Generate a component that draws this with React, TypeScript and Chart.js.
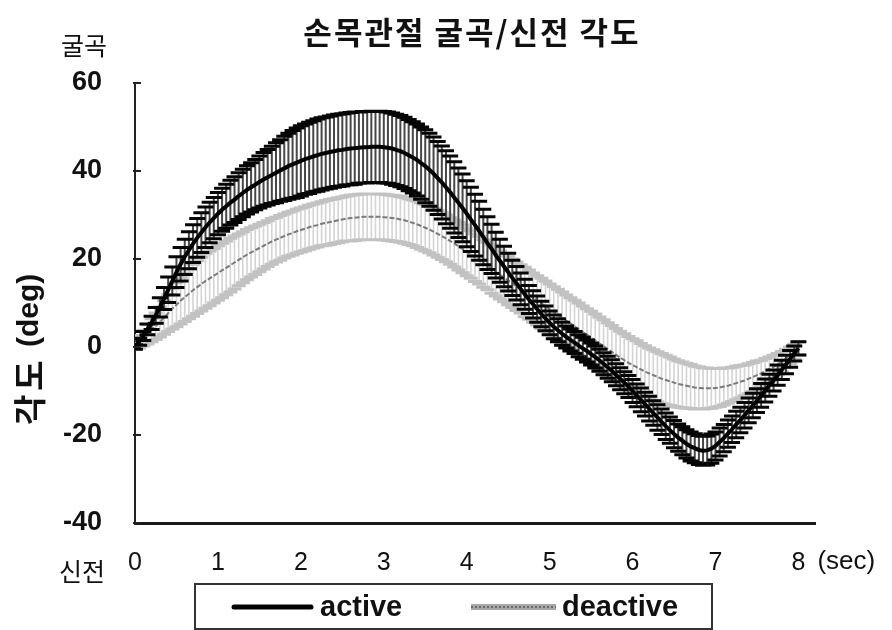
import React, { useEffect, useRef } from 'react';
import { Chart, registerables } from 'chart.js';

Chart.register(...registerables);

// ---- data (sampled every 0.05 s) ----
const TIMES = [
  0, 0.05, 0.1, 0.15, 0.2, 0.25, 0.3, 0.35, 0.4, 0.45, 0.5, 0.55, 0.6, 0.65, 0.7, 0.75, 0.8, 0.85, 0.9, 0.95,
  1, 1.05, 1.1, 1.15, 1.2, 1.25, 1.3, 1.35, 1.4, 1.45, 1.5, 1.55, 1.6, 1.65, 1.7, 1.75, 1.8, 1.85, 1.9, 1.95,
  2, 2.05, 2.1, 2.15, 2.2, 2.25, 2.3, 2.35, 2.4, 2.45, 2.5, 2.55, 2.6, 2.65, 2.7, 2.75, 2.8, 2.85, 2.9, 2.95,
  3, 3.05, 3.1, 3.15, 3.2, 3.25, 3.3, 3.35, 3.4, 3.45, 3.5, 3.55, 3.6, 3.65, 3.7, 3.75, 3.8, 3.85, 3.9, 3.95,
  4, 4.05, 4.1, 4.15, 4.2, 4.25, 4.3, 4.35, 4.4, 4.45, 4.5, 4.55, 4.6, 4.65, 4.7, 4.75, 4.8, 4.85, 4.9, 4.95,
  5, 5.05, 5.1, 5.15, 5.2, 5.25, 5.3, 5.35, 5.4, 5.45, 5.5, 5.55, 5.6, 5.65, 5.7, 5.75, 5.8, 5.85, 5.9, 5.95,
  6, 6.05, 6.1, 6.15, 6.2, 6.25, 6.3, 6.35, 6.4, 6.45, 6.5, 6.55, 6.6, 6.65, 6.7, 6.75, 6.8, 6.85, 6.9, 6.95,
  7, 7.05, 7.1, 7.15, 7.2, 7.25, 7.3, 7.35, 7.4, 7.45, 7.5, 7.55, 7.6, 7.65, 7.7, 7.75, 7.8, 7.85, 7.9, 7.95,
  8,
];

const ACTIVE_MEAN = [
  0, 1.2, 2.5, 4, 5.5, 7.2, 9, 11, 13, 15, 17, 18.8, 20.5, 22, 23.5, 24.8, 26, 27.2, 28.3, 29.3,
  30.3, 31.2, 32, 32.8, 33.5, 34.3, 35, 35.7, 36.3, 36.9, 37.5, 38.1, 38.6, 39.1, 39.6, 40.1, 40.6, 41.1, 41.5, 41.9,
  42.3, 42.7, 43, 43.3, 43.6, 43.9, 44.1, 44.3, 44.5, 44.7, 44.8, 45, 45.1, 45.2, 45.3, 45.4, 45.4, 45.5, 45.5, 45.5,
  45.4, 45.3, 45.1, 44.8, 44.5, 44.1, 43.6, 43.1, 42.5, 41.8, 41.1, 40.3, 39.4, 38.4, 37.4, 36.3, 35.2, 34, 32.8, 31.6,
  30.3, 29, 27.7, 26.4, 25, 23.6, 22.3, 20.9, 19.6, 18.3, 17, 15.7, 14.5, 13.2, 12, 10.8, 9.7, 8.6, 7.5, 6.5,
  5.5, 4.6, 3.8, 3, 2.3, 1.6, 1, 0.3, -0.3, -0.9, -1.6, -2.3, -3, -3.8, -4.6, -5.4, -6.3, -7.2, -8.1, -9,
  -10, -11, -12, -13, -14, -15, -16, -17, -18, -18.9, -19.8, -20.6, -21.3, -22, -22.6, -23, -23.4, -23.6, -23.5, -23.1,
  -22.5, -21.6, -20.7, -19.7, -18.7, -17.6, -16.6, -15.5, -14.4, -13.3, -12.2, -11, -9.9, -8.7, -7.6, -6.4, -5.2, -4, -2.7, -1.5,
  -0.3,
];

const ACTIVE_SD = [
  0.5, 0.8, 1, 1.2, 1.5, 1.8, 2.2, 2.5, 2.9, 3.2, 3.5, 3.8, 4, 4.2, 4.3, 4.4, 4.5, 4.6, 4.6, 4.7,
  4.8, 4.9, 5, 5.1, 5.2, 5.3, 5.4, 5.5, 5.6, 5.7, 5.9, 6.1, 6.3, 6.5, 6.8, 7, 7.3, 7.5, 7.7, 7.9,
  8, 8, 8.1, 8.1, 8.2, 8.2, 8.2, 8.2, 8.2, 8.2, 8.2, 8.2, 8.2, 8.2, 8.1, 8.1, 8.1, 8.1, 8.1, 8.1,
  8.1, 8.1, 8.1, 8.1, 8.1, 8.1, 8.1, 8.1, 8.2, 8.2, 8.3, 8.3, 8.3, 8.3, 8.3, 8.3, 8.2, 8.1, 7.9, 7.7,
  7.5, 7.3, 7, 6.7, 6.3, 6, 5.6, 5.2, 4.9, 4.6, 4.3, 4, 3.8, 3.6, 3.4, 3.2, 3.1, 3, 2.9, 2.8,
  2.7, 2.7, 2.6, 2.6, 2.5, 2.5, 2.5, 2.5, 2.5, 2.5, 2.5, 2.5, 2.5, 2.5, 2.5, 2.5, 2.5, 2.5, 2.5, 2.5,
  2.6, 2.6, 2.7, 2.7, 2.8, 2.8, 2.9, 2.9, 3, 3, 3.1, 3.1, 3.2, 3.2, 3.3, 3.3, 3.3, 3.3, 3.3, 3.3,
  3.2, 3.2, 3.1, 3.1, 3, 3, 2.9, 2.9, 2.8, 2.8, 2.7, 2.7, 2.6, 2.5, 2.4, 2.3, 2.2, 2.1, 1.9, 1.7,
  1.5,
];

const DEACTIVE_MEAN = [
  0.5, 1.2, 2, 2.9, 3.8, 4.7, 5.7, 6.7, 7.7, 8.7, 9.6, 10.5, 11.3, 12.1, 12.9, 13.6, 14.3, 15, 15.6, 16.2,
  16.8, 17.4, 18, 18.6, 19.2, 19.8, 20.4, 21, 21.5, 22, 22.5, 23, 23.5, 24, 24.4, 24.8, 25.2, 25.6, 25.9, 26.3,
  26.6, 26.9, 27.2, 27.5, 27.7, 28, 28.2, 28.4, 28.6, 28.8, 29, 29.2, 29.3, 29.4, 29.5, 29.6, 29.6, 29.6, 29.6, 29.6,
  29.5, 29.4, 29.3, 29.2, 29, 28.8, 28.5, 28.2, 27.9, 27.5, 27.1, 26.7, 26.2, 25.7, 25.2, 24.7, 24.1, 23.5, 22.9, 22.3,
  21.6, 21, 20.3, 19.7, 19, 18.4, 17.7, 17.1, 16.4, 15.8, 15.1, 14.5, 13.8, 13.2, 12.5, 11.9, 11.2, 10.6, 9.9, 9.3,
  8.6, 8, 7.3, 6.7, 6, 5.4, 4.7, 4.1, 3.4, 2.8, 2.1, 1.5, 0.8, 0.2, -0.5, -1.1, -1.8, -2.4, -3, -3.6,
  -4.1, -4.6, -5.1, -5.6, -6, -6.4, -6.8, -7.2, -7.5, -7.8, -8.1, -8.4, -8.6, -8.8, -9, -9.2, -9.3, -9.4, -9.4, -9.4,
  -9.3, -9.2, -9, -8.8, -8.5, -8.2, -7.9, -7.6, -7.2, -6.8, -6.4, -6, -5.5, -5, -4.5, -3.9, -3.3, -2.6, -1.9, -1.1,
  -0.3,
];

const DEACTIVE_SD = [
  1, 1.4, 1.8, 2.2, 2.6, 3, 3.4, 3.8, 4.2, 4.6, 5, 5.3, 5.5, 5.7, 5.9, 6, 6.1, 6.2, 6.2, 6.2,
  6.2, 6.2, 6.1, 6.1, 6, 5.9, 5.8, 5.7, 5.6, 5.5, 5.4, 5.3, 5.2, 5.2, 5.1, 5.1, 5, 5, 5, 5,
  5, 5, 5, 5, 5, 5, 5.1, 5.1, 5.1, 5.1, 5.1, 5.1, 5.2, 5.2, 5.2, 5.2, 5.2, 5.2, 5.2, 5.2,
  5.2, 5.2, 5.2, 5.2, 5.2, 5.2, 5.2, 5.2, 5.3, 5.3, 5.3, 5.3, 5.3, 5.3, 5.3, 5.3, 5.3, 5.3, 5.4, 5.4,
  5.4, 5.4, 5.4, 5.4, 5.4, 5.4, 5.5, 5.5, 5.5, 5.5, 5.5, 5.5, 5.5, 5.5, 5.6, 5.6, 5.6, 5.6, 5.7, 5.7,
  5.7, 5.7, 5.8, 5.8, 5.8, 5.8, 5.9, 5.9, 5.9, 5.9, 6, 6, 6, 6, 6, 6, 6, 6, 6, 6,
  6, 6, 5.9, 5.9, 5.8, 5.8, 5.7, 5.7, 5.6, 5.5, 5.4, 5.3, 5.2, 5.1, 5, 4.9, 4.8, 4.7, 4.6, 4.5,
  4.4, 4.3, 4.2, 4, 3.9, 3.8, 3.7, 3.5, 3.4, 3.3, 3.2, 3, 2.9, 2.7, 2.6, 2.4, 2.3, 2.1, 1.9, 1.7,
  1.5,
];

const SERIES_NAMES = ['active', 'deactive'];
const Y_TICKS = [60, 40, 20, 0, -20, -40];
const X_TICKS = [0, 1, 2, 3, 4, 5, 6, 7, 8];
const TITLE = '손목관절 굴곡/신전 각도';
const Y_TITLE_KR = '각도';
const Y_TITLE_UNIT = '(deg)';
const TOP_LABEL = '굴곡';
const BOTTOM_LABEL = '신전';
const UNIT_LABEL = '(sec)';

const KR = '"Noto Sans CJK KR", "Noto Sans", sans-serif';
const LAT = '"Liberation Sans", Arial, sans-serif';

const errorBarPlugin = {
  id: 'errorBars',
  beforeDatasetDraw(chart: any, args: any) {
    const ds: any = chart.data.datasets[args.index];
    if (!ds.sd) return;
    const ctx = chart.ctx;
    const xs = chart.scales.x;
    const ys = chart.scales.y;
    const eb = ds.errStyle;
    const ca = chart.chartArea;
    ctx.save();
    ctx.beginPath();
    ctx.rect(ca.left, ca.top - 20, ca.right - ca.left + 20, ca.bottom - ca.top + 40);
    ctx.clip();
    ctx.lineCap = 'butt';
    ctx.strokeStyle = eb.bar;
    ctx.lineWidth = eb.barWidth;
    ctx.beginPath();
    for (let i = 0; i < ds.data.length; i++) {
      const p = ds.data[i];
      const px = xs.getPixelForValue(p.x);
      ctx.moveTo(px, ys.getPixelForValue(p.y + ds.sd[i]));
      ctx.lineTo(px, ys.getPixelForValue(p.y - ds.sd[i]));
    }
    ctx.stroke();
    ctx.strokeStyle = eb.cap;
    ctx.lineWidth = eb.capWidth;
    ctx.beginPath();
    for (let i = 0; i < ds.data.length; i++) {
      const p = ds.data[i];
      const px = xs.getPixelForValue(p.x);
      const top = ys.getPixelForValue(p.y + ds.sd[i]);
      const bot = ys.getPixelForValue(p.y - ds.sd[i]);
      ctx.moveTo(px - eb.capHalf, top);
      ctx.lineTo(px + eb.capHalf, top);
      ctx.moveTo(px - eb.capHalf, bot);
      ctx.lineTo(px + eb.capHalf, bot);
    }
    ctx.stroke();
    ctx.restore();
  },
};

const decorPlugin = {
  id: 'decor',
  afterDraw(chart: any) {
    const ctx = chart.ctx;
    const ca = chart.chartArea;
    const ys = chart.scales.y;
    const xs = chart.scales.x;
    ctx.save();
    // inward y ticks
    ctx.strokeStyle = '#222';
    ctx.lineWidth = 2;
    Y_TICKS.forEach((v) => {
      const py = ys.getPixelForValue(v);
      ctx.beginPath();
      ctx.moveTo(ca.left - 2, py);
      ctx.lineTo(ca.left + 6, py);
      ctx.stroke();
    });

    ctx.fillStyle = '#111';
    ctx.textBaseline = 'middle';
    // title
    ctx.font = 'bold 31px ' + KR;
    ctx.textAlign = 'left';
    (ctx as any).letterSpacing = '2px';
    const tw = ctx.measureText(TITLE).width;
    ctx.fillText(TITLE, 471 - tw / 2 + 1, 32);

    // top / bottom labels
    ctx.font = '25px ' + KR;
    (ctx as any).letterSpacing = '0px';
    ctx.textAlign = 'center';
    ctx.fillText(TOP_LABEL, 84, 45);
    ctx.fillText(BOTTOM_LABEL, 82, 571);

    // y title rotated: "각도" from y=425 up to ~349, "(deg)" from 347 up to 270
    ctx.save();
    ctx.translate(29, 347);
    ctx.rotate(-Math.PI / 2);
    ctx.textAlign = 'left';
    ctx.font = 'bold 33px ' + KR;
    (ctx as any).letterSpacing = '4px';
    ctx.fillText(Y_TITLE_KR, -78, 0);
    (ctx as any).letterSpacing = '0px';
    ctx.font = 'bold 30px ' + LAT;
    ctx.fillText(Y_TITLE_UNIT, 0, 1);
    ctx.restore();

    // (sec)
    ctx.font = '26px ' + LAT;
    ctx.textAlign = 'left';
    ctx.fillText(UNIT_LABEL, xs.getPixelForValue(8) + 19, 562);

    // legend box
    const lx = 195, ly = 584, lw = 517, lh = 45;
    ctx.strokeStyle = '#333';
    ctx.lineWidth = 2;
    ctx.strokeRect(lx, ly, lw, lh);
    const cy = 607;
    ctx.lineCap = 'round';
    ctx.strokeStyle = '#000';
    ctx.lineWidth = 5;
    ctx.beginPath();
    ctx.moveTo(234, cy);
    ctx.lineTo(311, cy);
    ctx.stroke();
    ctx.lineCap = 'butt';
    ctx.strokeStyle = '#a8a8a8';
    ctx.lineWidth = 6;
    ctx.beginPath();
    ctx.moveTo(471, cy);
    ctx.lineTo(556, cy);
    ctx.stroke();
    ctx.strokeStyle = '#6a6a6a';
    ctx.lineWidth = 2;
    ctx.setLineDash([2, 2]);
    ctx.beginPath();
    ctx.moveTo(471, cy);
    ctx.lineTo(556, cy);
    ctx.stroke();
    ctx.setLineDash([]);

    ctx.fillStyle = '#111';
    ctx.font = 'bold 29px ' + LAT;
    ctx.textAlign = 'left';
    ctx.fillText(SERIES_NAMES[0], 320, cy + 1);
    ctx.fillText(SERIES_NAMES[1], 562, cy + 1);
    ctx.restore();
  },
};

export default function App() {
  const ref = useRef<HTMLCanvasElement | null>(null);

  useEffect(() => {
    document.body.style.margin = '0';
    const canvas = ref.current;
    if (!canvas) return;
    const chart = new Chart(canvas, {
      type: 'line',
      data: {
        datasets: [
          {
            label: SERIES_NAMES[0],
            data: TIMES.map((t, i) => ({ x: t, y: ACTIVE_MEAN[i] })),
            sd: ACTIVE_SD,
            errStyle: { bar: '#474747', barWidth: 2, cap: '#050505', capWidth: 3, capHalf: 8 },
            borderColor: '#000',
            borderWidth: 4,
            pointRadius: 0,
            tension: 0,
          } as any,
          {
            label: SERIES_NAMES[1],
            data: TIMES.map((t, i) => ({ x: t, y: DEACTIVE_MEAN[i] })),
            sd: DEACTIVE_SD,
            errStyle: { bar: '#d4d4d4', barWidth: 1.6, cap: '#c2c2c2', capWidth: 3, capHalf: 7 },
            borderColor: '#7a7a7a',
            borderWidth: 2,
            borderDash: [5, 2],
            pointRadius: 0,
            tension: 0,
          } as any,
        ],
      },
      options: {
        animation: false,
        responsive: false,
        devicePixelRatio: 1,
        layout: { padding: { left: 0, right: 77, top: 83, bottom: 0 } },
        plugins: {
          legend: { display: false },
          title: { display: false },
          tooltip: { enabled: false },
        },
        scales: {
          x: {
            type: 'linear',
            min: 0,
            max: 8.2,
            grid: { display: false, drawTicks: false },
            border: { display: true, color: '#1a1a1a', width: 3 },
            afterBuildTicks: (s: any) => {
              s.ticks = X_TICKS.map((v) => ({ value: v }));
            },
            afterFit: (s: any) => {
              s.height = 107;
            },
            ticks: {
              padding: 25,
              color: '#111',
              maxRotation: 0,
              autoSkip: false,
              font: { family: 'Liberation Sans', size: 25 },
            },
          },
          y: {
            type: 'linear',
            min: -40,
            max: 60,
            grid: { display: false, drawTicks: false },
            border: { display: true, color: '#222', width: 2 },
            afterBuildTicks: (s: any) => {
              s.ticks = Y_TICKS.map((v) => ({ value: v }));
            },
            afterFit: (s: any) => {
              s.width = 135;
            },
            ticks: {
              padding: 33,
              color: '#111',
              font: { family: 'Liberation Sans', size: 27, weight: 'bold' },
              callback: (v: any) => String(v),
            },
          },
        },
      } as any,
      plugins: [errorBarPlugin, decorPlugin],
    });
    return () => chart.destroy();
  }, []);

  return (
    <div style={{ width: 892, height: 630, background: '#fff' }}>
      <canvas ref={ref} width={892} height={630} style={{ display: 'block' }} />
    </div>
  );
}
